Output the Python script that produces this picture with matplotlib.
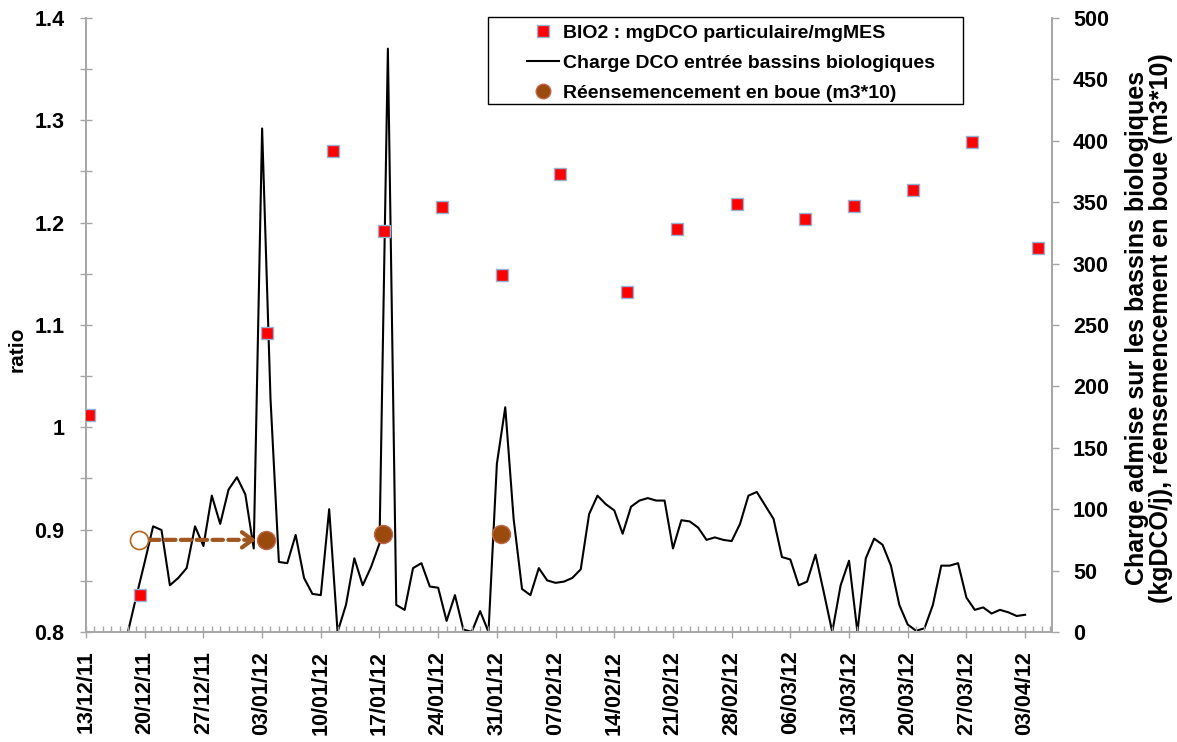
import numpy as np
import pandas as pd
import matplotlib
matplotlib.use('Agg')
import matplotlib.pyplot as plt
import matplotlib.dates as mdates
from matplotlib.patches import Rectangle
from matplotlib.lines import Line2D

plt.rcParams['font.family'] = ['Liberation Sans', 'DejaVu Sans']
plt.rcParams['font.weight'] = 'bold'

# BIO2 : mgDCO particulaire/mgMES (axe gauche)
ratio_dates = ['13/12/11 09:00', '19/12/11 11:00', '03/01/12 14:00', '11/01/12 12:00',
               '17/01/12 12:00', '24/01/12 12:00', '31/01/12 14:00', '07/02/12 12:00',
               '15/02/12 12:00', '21/02/12 12:00', '28/02/12 14:00', '07/03/12 19:00',
               '13/03/12 14:00', '20/03/12 14:00', '27/03/12 16:00', '04/04/12 14:00']
ratio = [1.012, 0.836, 1.092, 1.270, 1.192, 1.215, 1.149, 1.248,
         1.132, 1.194, 1.218, 1.204, 1.216, 1.232, 1.279, 1.175]

# Charge DCO entree bassins biologiques (kgDCO/j), journalier du 18/12/11 au 03/04/12
charge_start = '18/12/11'
charge = [0, 29, 57, 86, 83, 38, 44, 52, 86, 70,
          111, 88, 116, 126, 112, 68, 410, 190, 57, 56,
          79, 44, 31, 30, 100, 0, 22, 60, 38, 53,
          72, 475, 22, 18, 52, 56, 37, 36, 9, 30,
          2, 0, 17, 0, 137, 183, 92, 35, 30, 52,
          42, 40, 41, 44, 51, 96, 111, 104, 99, 80,
          102, 107, 109, 107, 107, 68, 91, 90, 85, 75,
          77, 75, 74, 88, 111, 114, 103, 92, 61, 59,
          38, 41, 63, 32, 0, 38, 58, 0, 60, 76,
          71, 54, 22, 6, 1, 3, 22, 54, 54, 56,
          28, 18, 20, 15, 18, 16, 13, 14]

# reensemencement en boue (m3*10)
reens_prevu_date = '19/12/11 09:00'
reens_prevu = 75
reens_dates = ['03/01/12 10:00', '17/01/12 11:00', '31/01/12 12:00']
reens = [75, 80, 80]

tick_labels = ['13/12/11', '20/12/11', '27/12/11', '03/01/12', '10/01/12', '17/01/12',
               '24/01/12', '31/01/12', '07/02/12', '14/02/12', '21/02/12', '28/02/12',
               '06/03/12', '13/03/12', '20/03/12', '27/03/12', '03/04/12']
x_end = '06/04/12 05:00'


def to_dt(s):
    return pd.to_datetime(s, dayfirst=True, format='mixed')


r_x = to_dt(ratio_dates)
c_x = pd.date_range(to_dt(charge_start), periods=len(charge), freq='D')
b_x = to_dt(reens_dates)
p_x = to_dt(reens_prevu_date)
t_x = to_dt(tick_labels)

gray = '#A6A6A6'
brown = '#9A4A0C'
arrow_col = '#A0561E'

fig = plt.figure(figsize=(11.77, 7.42), dpi=100)
ax = fig.add_axes([0.0731, 0.1483, 0.8207, 0.8275])
ax2 = ax.twinx()
ax.set_zorder(ax2.get_zorder() + 1)
ax.patch.set_visible(False)

ax2.plot(c_x, charge, color='black', lw=1.5, zorder=2)
ax2.plot([p_x], [reens_prevu], 'o', ms=13, mfc='white', mec='#B5651D', mew=1.2, zorder=4)
ax2.plot(b_x, reens, 'o', ms=13, mfc=brown, mec='#C0664A', mew=1, zorder=4)
# fleche pointillee
ax2.annotate('', xy=(b_x[0], reens[0]), xytext=(p_x, reens_prevu),
             arrowprops=dict(arrowstyle='-', color=arrow_col, lw=3,
                             linestyle=(0, (2.5, 1.3)), shrinkA=7, shrinkB=11), zorder=3)
ax2.annotate('', xy=(b_x[0], reens[0]), xytext=(b_x[0] - pd.Timedelta(days=2), reens[0]),
             arrowprops=dict(arrowstyle='->,head_length=0.75,head_width=0.55', color=arrow_col,
                             lw=3, shrinkA=0, shrinkB=7), zorder=3)

ax.plot(r_x, ratio, ls='none', marker='s', ms=9, mfc='red', mec='#95B3D7', mew=1, zorder=5)

ax.set_xlim(t_x[0], to_dt(x_end))
ax.set_ylim(0.8, 1.4)
ax2.set_ylim(0, 500)

ax.set_yticks(np.arange(0.8, 1.41, 0.1))
ax.set_yticklabels(['0.8', '0.9', '1', '1.1', '1.2', '1.3', '1.4'])
ax.set_yticks(np.arange(0.8, 1.41, 0.05), minor=True)
ax2.set_yticks(np.arange(0, 501, 50))

ax.set_xticks(t_x)
ax.set_xticklabels(tick_labels, rotation=90)
ax.xaxis.set_minor_locator(mdates.DayLocator())

for a in (ax, ax2):
    for s in a.spines.values():
        s.set_color(gray)
        s.set_linewidth(1.2)
    a.spines['top'].set_visible(False)

ax.tick_params(axis='y', which='both', direction='inout', length=9, color=gray, width=1,
               labelsize=15.5, pad=11)
ax.tick_params(axis='x', which='major', direction='inout', length=9, color=gray, width=1,
               labelsize=15.5, pad=9)
ax.tick_params(axis='x', which='minor', direction='in', length=4, color=gray, width=1)
ax2.tick_params(axis='y', direction='out', length=5, color=gray, width=1, labelsize=15.5, pad=10)

ax.set_ylabel('ratio', fontsize=15, fontweight='bold')
ax.yaxis.set_label_coords(-0.061, 0.46)
ax2.set_ylabel('Charge admise sur les bassins biologiques\n'
               '(kgDCO/j), réensemencement en boue (m3*10)',
               fontsize=18, fontweight='bold', linespacing=1.0)
ax2.yaxis.set_label_coords(1.076, 0.495)

# legende
ax.add_patch(Rectangle((0.416, 0.86), 0.492, 0.1415, transform=ax.transAxes,
                       fc='white', ec='black', lw=1, zorder=6, clip_on=False))
handles = [Line2D([], [], ls='none', marker='s', ms=9, mfc='red', mec='#95B3D7'),
           Line2D([], [], color='black', lw=1.5),
           Line2D([], [], ls='none', marker='o', ms=10.5, mfc=brown, mec='#C0664A')]
labels = ['BIO2 : mgDCO particulaire/mgMES',
          'Charge DCO entrée bassins biologiques',
          'Réensemencement en boue (m3*10)']
leg = ax.legend(handles, labels, loc='upper left', bbox_to_anchor=(0.4565, 0.990),
                frameon=False, borderpad=0, borderaxespad=0, handlelength=1.65,
                handletextpad=0.2, labelspacing=0.65,
                prop={'size': 14, 'weight': 'bold'})
leg.set_zorder(7)

fig.savefig('out.png', dpi=100)
